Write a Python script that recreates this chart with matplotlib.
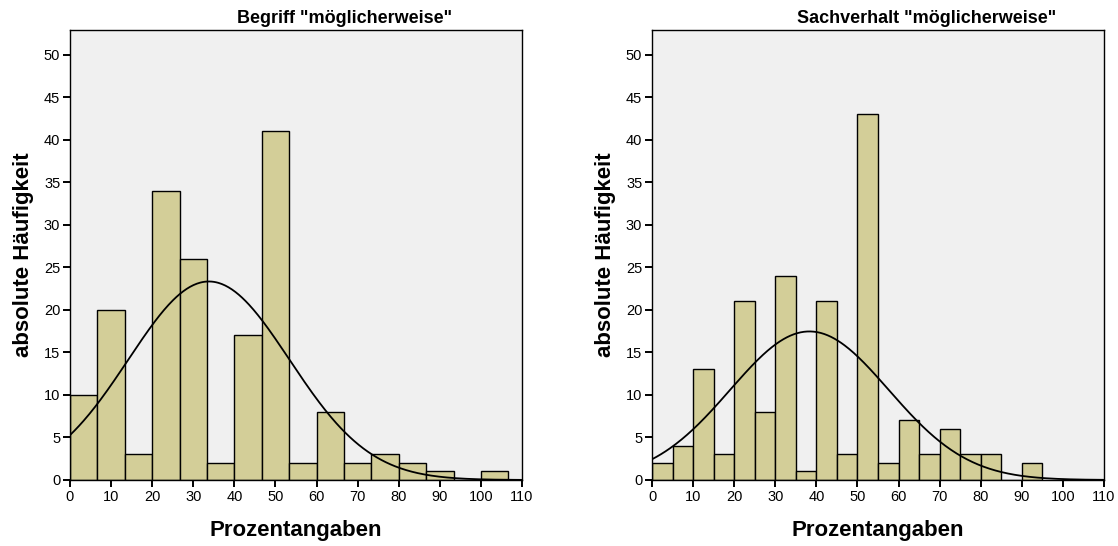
import numpy as np
import matplotlib
matplotlib.use("Agg")
import matplotlib.pyplot as plt

plt.rcParams['font.family'] = ['Liberation Sans', 'DejaVu Sans']

# Begriff "möglicherweise" - bins of width 100/15
left_edges = [0, 6.667, 13.333, 20, 26.667, 33.333, 40, 46.667, 53.333, 60,
              66.667, 73.333, 80, 86.667, 93.333, 100]
left_counts = [10, 20, 3, 34, 26, 2, 17, 41, 2, 8, 2, 3, 2, 1, 0, 1]
left_width = 6.667
left_mean, left_sd = 33.8, 19.6

# Sachverhalt "möglicherweise" - bins of width 5
right_edges = [0, 5, 10, 15, 20, 25, 30, 35, 40, 45, 50, 55, 60, 65, 70, 75, 80, 85, 90]
right_counts = [2, 4, 13, 3, 21, 8, 24, 1, 21, 3, 43, 2, 7, 3, 6, 3, 3, 0, 2]
right_width = 5
right_mean, right_sd = 38.3, 19.3

titles = ['Begriff "möglicherweise"', 'Sachverhalt "möglicherweise"']

bar_color = '#D3CE98'
bg_color = '#F0F0F0'

fig = plt.figure(figsize=(11.18, 5.46), dpi=100)
ax1 = fig.add_axes([0.0626, 0.1209, 0.4043, 0.824])
ax2 = fig.add_axes([0.5832, 0.1209, 0.4043, 0.824])

panels = [
    (ax1, left_edges, left_counts, left_width, left_mean, left_sd, titles[0]),
    (ax2, right_edges, right_counts, right_width, right_mean, right_sd, titles[1]),
]

for ax, edges, counts, w, mu, sd, title in panels:
    ax.set_facecolor(bg_color)
    ax.bar(edges, counts, width=w, align='edge', color=bar_color,
           edgecolor='black', linewidth=1.0, zorder=2)
    # normal curve scaled to the histogram
    n = sum(counts)
    xs = np.linspace(0, 110, 400)
    ys = n * w / (sd * np.sqrt(2 * np.pi)) * np.exp(-(xs - mu) ** 2 / (2 * sd ** 2))
    ax.plot(xs, ys, color='black', linewidth=1.3, zorder=3)

    ax.set_xlim(0, 110)
    ax.set_ylim(0, 52.9)
    ax.set_xticks(range(0, 111, 10))
    ax.set_yticks(range(0, 51, 5))
    ax.tick_params(direction='out', length=5, width=1.4, labelsize=10.5, pad=2)
    for s in ax.spines.values():
        s.set_linewidth(1.0)
        s.set_color('black')
    # title sits a bit right of the axes centre, like in the original
    ax.set_title(title, fontsize=13, fontweight='bold', pad=5, x=0.607)
    ax.set_xlabel('Prozentangaben', fontsize=16, fontweight='bold', labelpad=12)
    ax.set_ylabel('absolute Häufigkeit', fontsize=16, fontweight='bold', labelpad=7)

fig.savefig('out.png', dpi=100)
